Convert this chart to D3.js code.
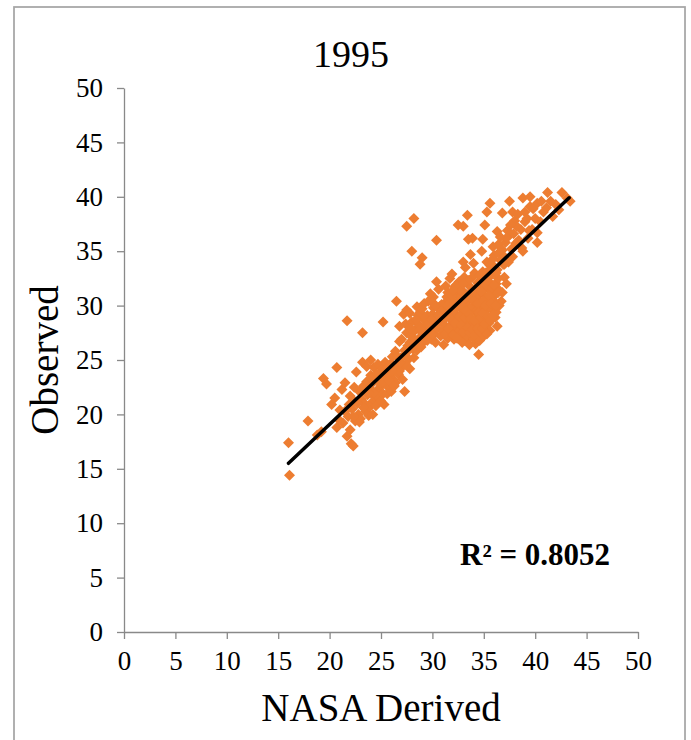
<!DOCTYPE html>
<html><head><meta charset="utf-8">
<script src="https://cdn.jsdelivr.net/npm/d3@7"></script>
<style>html,body{margin:0;padding:0;background:#fff;}svg{display:block;}
text{font-family:'Liberation Serif','Times New Roman',serif;}</style>
</head><body>
<script>
const chartTitle = "1995";
const xTitle = "NASA Derived";
const yTitle = "Observed";
const r2Label = "R² = 0.8052";
const xTicks = [0,5,10,15,20,25,30,35,40,45,50];
const yTicks = [0,5,10,15,20,25,30,35,40,45,50];
const trendX = [16.0, 43.3];
const trendSlope = 0.894;
const trendIntercept = 1.2;
const nasaDerived = [
16.0,16.1,17.9,18.8,19.2,19.4,19.7,20.2,20.5,20.7,20.7,20.9,21.2,21.0,21.3,21.5,21.7,21.7,21.8,22.0,22.1,22.3,22.2,22.4,22.6,22.5,22.8,22.9,23.0,23.2,23.2,23.1,23.3,23.5,23.6,23.7,23.9,23.8,24.0,24.1,24.2,24.3,24.4,24.5,24.6,24.7,24.8,24.9,25.0,25.1,25.2,25.2,25.3,25.4,25.5,25.6,25.7,25.8,25.9,26.0,26.1,26.2,26.3,26.4,26.5,26.6,26.7,26.8,26.8,26.9,27.0,27.2,27.3,27.3,27.5,27.5,27.5,27.6,27.7,27.8,27.8,27.9,28.0,28.1,28.2,28.3,28.4,28.5,28.6,28.7,28.8,28.8,29.0,29.0,29.1,29.2,29.3,29.4,29.5,29.6,29.7,29.8,29.9,30.0,30.1,30.1,30.2,30.3,30.4,30.4,30.4,30.5,30.6,30.7,30.8,30.9,31.0,31.1,31.2,31.3,31.4,31.5,31.6,31.7,31.7,31.8,31.9,31.9,32.0,32.1,32.2,32.3,32.4,32.5,32.5,32.6,32.7,32.8,32.9,33.0,33.0,33.0,33.1,33.2,33.2,33.3,33.4,33.4,33.5,33.5,33.6,33.7,33.7,33.8,33.9,33.9,34.0,34.0,34.1,34.2,34.3,34.4,34.5,34.5,34.6,34.7,34.8,34.8,34.9,34.9,35.0,35.1,35.1,35.2,35.3,35.3,35.3,35.4,35.5,35.6,35.6,35.7,35.8,35.9,35.9,36.0,36.1,36.2,36.3,36.3,36.3,36.3,36.5,36.6,36.7,36.8,36.9,37.0,37.1,37.3,37.4,37.5,37.5,37.7,37.8,37.8,38.0,38.2,38.4,38.7,38.8,38.8,39.0,39.0,39.3,39.5,39.5,39.7,40.0,40.2,40.2,40.2,40.5,40.8,41.1,41.2,41.7,42.0,42.6,43.1,43.4,42.3,
31.2,31.5,31.8,32.0,32.2,32.3,32.5,32.6,32.8,32.9,33.0,33.1,33.2,33.3,33.4,33.5,33.6,33.7,33.8,33.9,34.0,34.0,34.1,34.2,34.3,34.3,34.4,34.5,34.6,34.6,34.7,34.8,34.9,35.0,35.0,35.1,35.2,35.3,35.4,35.5,35.6,35.7,35.8,36.0,36.1,36.2,36.4,36.5,36.8,37.0,37.2,
27.0,27.4,28.0,28.2,28.6,29.0,29.2,29.5,29.8,30.0,30.3,30.6,30.9,31.1,31.3,
22.9,23.4,23.9,24.2,24.5,24.9,25.3,25.6,26.0,26.4,26.8,27.1,27.4,27.8,28.2,28.5,28.9,21.5,22.0,22.4,23.6,24.0,
31.0,31.2,31.4,31.6,31.8,31.9,32.0,32.1,32.2,32.4,32.4,32.6,32.7,32.8,32.9,33.0,33.1,33.2,33.3,33.4,33.5,33.6,33.6,33.7,33.8,33.9,33.9,34.0,34.1,34.1,34.2,34.3,34.4,34.4,34.5,34.6,34.6,34.7,34.8,34.9,34.9,35.0,35.1,35.2,35.2,35.3,35.4,35.5,35.5,35.6,35.7,35.8,35.9,36.0,36.1,36.2,36.4,31.5,30.8,31.3,32.3,33.0,32.0,
24.3,24.6,25.0,25.2,25.5,25.8,26.1,26.3,26.6,26.9,27.2,27.6,24.1,23.8,23.3,22.7,22.3,21.9,
28.4,28.8,29.3,29.6,30.0,30.3,29.9,30.6,27.9,28.7,
36.0,36.4,36.8,37.2,37.6,37.9,38.3,38.6,39.2,39.8,40.6,36.6,37.0,38.1,35.6,35.9,39.4,41.5
];
const observed = [
17.4,14.4,19.4,18.1,18.4,23.3,22.8,20.9,21.5,18.8,24.3,19.5,22.3,20.4,19.2,22.9,18.0,28.6,19.8,18.6,17.3,17.1,20.5,21.2,23.9,19.4,20.0,22.1,19.6,24.8,27.5,21.4,22.6,20.3,23.0,21.8,22.4,19.9,23.6,21.1,22.9,24.3,21.6,23.2,22.2,24.6,21.5,23.8,22.6,24.2,28.5,21.9,23.4,24.8,22.8,23.9,24.5,22.4,23.5,24.7,25.3,23.2,24.1,25.8,30.4,24.6,23.7,26.7,28.1,25.2,24.3,29.2,22.1,25.9,27.5,29.6,37.3,26.3,25.1,26.6,29.3,27.2,35.0,26.0,38.0,27.7,26.8,29.9,28.3,27.0,33.8,29.4,34.4,27.5,28.8,26.7,28.1,27.3,29.1,30.4,27.8,28.6,26.9,28.0,30.8,29.8,27.4,28.9,36.0,32.2,29.0,27.9,28.4,29.9,27.2,28.7,29.4,27.7,28.2,30.3,30.8,27.0,28.9,32.5,29.6,27.6,32.9,28.3,30.1,26.9,29.2,27.9,31.0,37.4,28.6,30.5,27.3,29.8,28.1,37.3,34.0,31.3,26.8,33.5,29.0,27.8,30.4,38.3,36.1,28.4,31.8,34.7,27.1,29.6,36.2,32.6,33.9,28.0,30.9,26.5,29.3,32.1,25.5,28.7,31.4,27.4,35.0,30.2,36.1,33.1,29.0,37.4,31.8,27.8,34.0,38.6,32.4,30.6,28.4,39.4,32.7,31.0,29.6,35.4,30.8,33.6,28.9,32.0,36.8,33.3,31.6,28.1,34.9,34.2,30.4,38.5,33.8,32.6,35.8,36.9,34.0,39.6,36.5,35.2,38.6,34.5,37.8,37.3,36.0,35.3,39.9,35.0,37.7,38.6,36.2,40.0,39.1,37.0,38.0,39.4,36.7,35.8,37.7,38.6,39.0,40.4,38.2,39.3,40.4,39.9,39.6,38.8,
29.9,31.2,30.6,28.0,31.7,29.7,27.6,32.2,30.9,26.6,29.4,32.6,28.5,31.0,27.2,29.9,26.4,30.7,28.4,31.4,27.0,29.8,33.0,28.3,30.6,27.6,29.0,31.0,26.8,29.7,32.3,28.0,30.0,27.2,31.0,29.5,33.0,28.6,31.6,29.9,27.7,33.4,28.8,30.4,31.2,29.4,32.5,30.0,31.2,33.8,32.0,
26.9,28.3,28.5,26.3,29.1,29.7,30.2,26.8,31.1,30.3,26.6,31.5,30.1,26.4,31.8,
19.3,21.0,20.7,20.0,20.8,22.9,20.9,21.9,22.1,22.9,24.0,23.2,24.6,24.2,25.2,25.9,26.2,20.3,21.7,22.5,24.4,25.0,
28.6,27.4,29.2,27.9,28.8,30.9,27.3,29.6,28.4,30.2,27.0,29.0,31.4,28.2,30.0,27.6,28.9,30.7,29.5,28.0,32.3,29.2,27.5,28.8,31.1,27.8,29.9,30.5,28.6,27.3,31.6,29.6,27.9,30.2,29.4,27.6,32.8,28.9,31.3,27.9,29.3,30.5,28.3,30.0,31.9,27.4,29.0,30.9,32.2,28.6,30.2,31.6,29.1,31.9,30.0,33.0,31.2,30.0,29.5,28.9,31.9,32.0,31.4,
22.0,23.7,21.2,23.0,24.2,23.1,24.0,22.6,25.3,24.8,25.4,25.8,23.3,22.0,20.6,21.0,19.8,20.9,
28.7,27.8,28.9,28.3,29.2,30.0,28.7,29.1,27.9,26.6,
34.6,35.6,35.1,36.2,37.4,36.6,38.4,37.0,38.0,38.9,39.6,36.3,34.5,35.7,33.7,34.3,36.9,39.6
];

const W = 691, H = 740;
const svg = d3.select("body").append("svg").attr("width", W).attr("height", H);
const serif = "'Liberation Serif','Times New Roman',serif";

// outer border
svg.append("rect").attr("x", 14).attr("y", 7).attr("width", 671).attr("height", 760)
  .attr("fill", "none").attr("stroke", "#a6a6a6").attr("stroke-width", 1.75);

const x = d3.scaleLinear().domain([0, 50]).range([124, 638]);
const y = d3.scaleLinear().domain([0, 50]).range([632, 88]);
const axisColor = "#898989";

const xAxis = svg.append("g").attr("transform", `translate(0,${y(0)})`)
  .call(d3.axisBottom(x).tickValues(xTicks).tickSize(7).tickSizeOuter(0).tickPadding(10));
const yAxis = svg.append("g").attr("transform", `translate(${x(0)},0)`)
  .call(d3.axisLeft(y).tickValues(yTicks).tickSize(7).tickSizeOuter(0).tickPadding(14));
[xAxis, yAxis].forEach(g => {
  g.attr("font-family", serif).attr("font-size", 27);
  g.selectAll("path,line").attr("stroke", axisColor).attr("stroke-width", 1.3);
  g.selectAll("text").style("font-family", serif).style("font-size", "27px").attr("fill", "#000");
});
xAxis.selectAll("text").attr("dy", "0.78em");

// points
const pts = nasaDerived.map((v, i) => [v, observed[i]]);
const s = 5.5;
svg.append("g").selectAll("path").data(pts).join("path")
  .attr("d", `M0,${-s}L${s},0L0,${s}L${-s},0Z`)
  .attr("transform", d => `translate(${x(d[0])},${y(d[1])})`)
  .attr("fill", "#ED7D31");

// trend line
svg.append("line")
  .attr("x1", x(trendX[0])).attr("y1", y(trendSlope * trendX[0] + trendIntercept))
  .attr("x2", x(trendX[1])).attr("y2", y(trendSlope * trendX[1] + trendIntercept))
  .attr("stroke", "#000").attr("stroke-width", 3.5).attr("stroke-linecap", "round");

// titles
svg.append("text").attr("x", 351).attr("y", 67).attr("text-anchor", "middle")
  .style("font-family", serif).attr("font-size", 38).text(chartTitle);
svg.append("text").attr("x", 381).attr("y", 721).attr("text-anchor", "middle")
  .style("font-family", serif).attr("font-size", 39).text(xTitle);
svg.append("text").attr("transform", "translate(58,360) rotate(-90)").attr("text-anchor", "middle")
  .style("font-family", serif).attr("font-size", 39).text(yTitle);
svg.append("text").attr("x", 460).attr("y", 565)
  .style("font-family", serif).attr("font-size", 31).attr("font-weight", "bold").text(r2Label);
</script>
</body></html>
